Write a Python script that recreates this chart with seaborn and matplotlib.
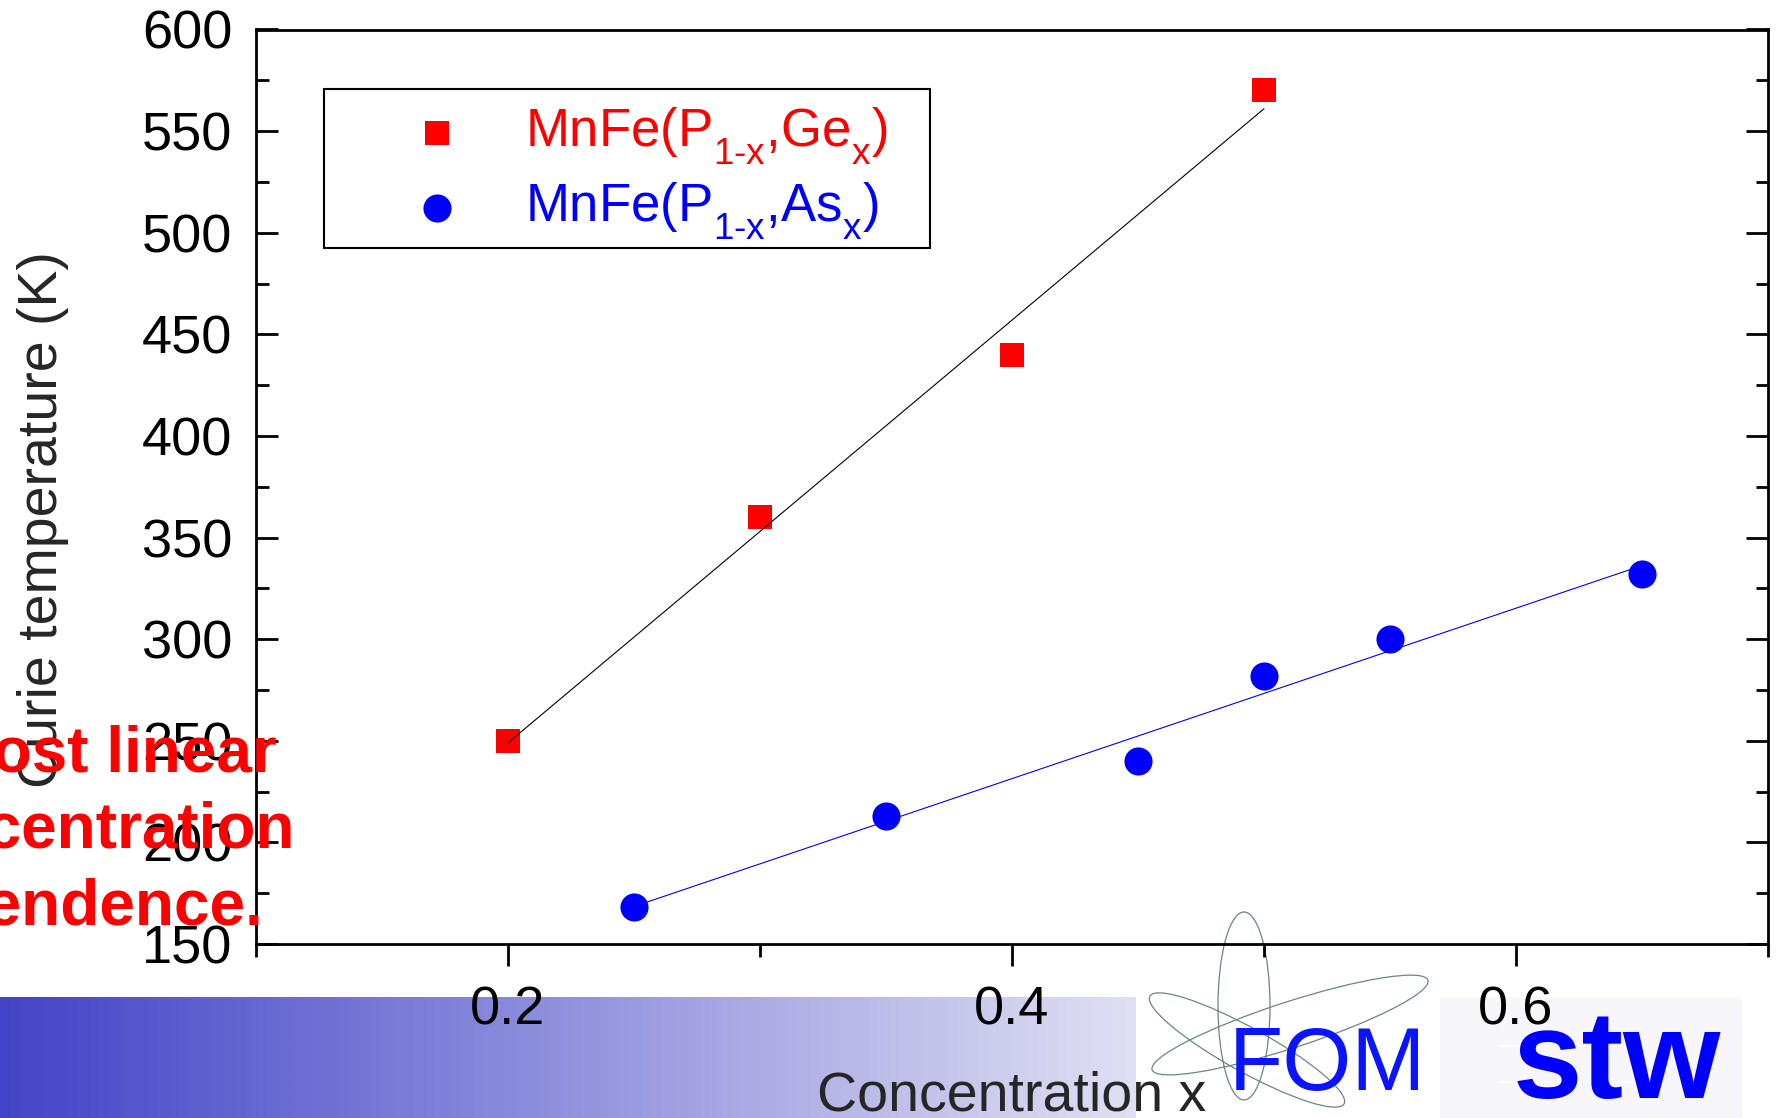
import numpy as np
import matplotlib
matplotlib.use("Agg")
import matplotlib.pyplot as plt
from matplotlib import font_manager, _mathtext
from matplotlib.colors import LinearSegmentedColormap
from matplotlib.patches import Ellipse, Rectangle
import seaborn as sns

# Curie temperature versus concentration x
ge_x = [0.20, 0.30, 0.40, 0.50]
ge_tc = [250, 360, 440, 570]

as_x = [0.25, 0.35, 0.45, 0.50, 0.55, 0.65]
as_tc = [168, 213, 240, 282, 300, 332]

ge_label = r"MnFe(P$_{\text{1-x}}$,Ge$_{\text{x}}$)"
as_label = r"MnFe(P$_{\text{1-x}}$,As$_{\text{x}}$)"
x_label = "Concentration x"
y_label = "Curie temperature (K)"
note_lines = ["Almost linear", "concentration", "dependence."]

x_major = [0.2, 0.4, 0.6]
x_minor = [0.1, 0.3, 0.5, 0.7]
y_major = [150, 200, 250, 300, 350, 400, 450, 500, 550, 600]
y_minor = [175, 225, 275, 325, 375, 425, 475, 525, 575]

sns.set_style("ticks")
plt.rcParams["font.family"] = ["Liberation Sans", "DejaVu Sans"]
plt.rcParams["mathtext.fontset"] = "custom"
plt.rcParams["mathtext.rm"] = "Liberation Sans"
plt.rcParams["mathtext.it"] = "Liberation Sans:italic"
plt.rcParams["text.color"] = "black"
plt.rcParams["xtick.color"] = "black"
plt.rcParams["ytick.color"] = "black"
plt.rcParams["axes.edgecolor"] = "black"
# deeper subscripts, as in the chemical formulas of the legend
_mathtext.FontConstantsBase.sub1 = 0.65

W, H = 1781, 1118
fig = plt.figure(figsize=(W / 100, H / 100), dpi=100, facecolor="white")

# ---- slide background: gradient band and logos (pixel coordinates) ----
bg = fig.add_axes([0, 0, 1, 1], zorder=-1)
bg.set_xlim(0, W)
bg.set_ylim(H, 0)
bg.axis("off")

band = LinearSegmentedColormap.from_list("band", ["#4444C8", "#DFDFF3"])
bg.imshow(np.linspace(0, 1, 256)[None, :], extent=[0, 1136, H, 997],
          aspect="auto", cmap=band, interpolation="bilinear")
bg.add_patch(Rectangle((1440, 997), 302, H - 997, color="#F6F6FB", lw=0))

orbit = dict(fill=False, edgecolor="#6B8585", lw=0.9)
bg.add_patch(Ellipse((1244, 1006), 52, 188, angle=0, **orbit))
bg.add_patch(Ellipse((1290, 1025), 290, 46, angle=-18, **orbit))
bg.add_patch(Ellipse((1247, 1050), 222, 44, angle=29, **orbit))

installed = {f.name for f in font_manager.fontManager.ttflist}
if "Liberation Sans Narrow" in installed:
    fom_family, fom_size = "Liberation Sans Narrow", 76
else:
    fom_family, fom_size = "Liberation Sans", 64
bg.text(1327, 1090, "FOM", ha="center", va="baseline", color="#0A14FF",
        fontsize=fom_size, family=fom_family)

bg.text(1617, 1098, "stw", ha="center", va="baseline", color="#0000FF",
        fontsize=90, fontweight="bold")
for yy in (1046, 1082):
    bg.plot([1500, 1640], [yy, yy], color="white", lw=1.2)

# ---- main chart ----
ax = fig.add_axes([256 / W, 1 - 944 / H, (1768 - 256) / W, (944 - 29.5) / H])
ax.set_facecolor("none")

sns.regplot(x=ge_x, y=ge_tc, ax=ax, ci=None, marker="s", color="#FF0000",
            label=ge_label,
            scatter_kws=dict(s=275, linewidths=0, alpha=1, zorder=2),
            line_kws=dict(color="black", lw=0.8, zorder=3))
sns.regplot(x=as_x, y=as_tc, ax=ax, ci=None, marker="o", color="#0000FF",
            label=as_label,
            scatter_kws=dict(s=410, linewidths=0, alpha=1, zorder=2),
            line_kws=dict(color="#0000FF", lw=0.8, zorder=3))

ax.set_xlim(0.1, 0.7)
ax.set_ylim(150, 600)
ax.set_xticks(x_major)
ax.set_xticks(x_minor, minor=True)
ax.set_yticks(y_major)
ax.set_yticks(y_minor, minor=True)
ax.set_xticklabels([f"{v:g}" for v in x_major])

for s in ax.spines.values():
    s.set_linewidth(2)
    s.set_color("black")

ax.tick_params(axis="y", which="both", direction="in", left=True, right=True,
               labelleft=True, labelright=False, width=2, pad=17, labelsize=39)
ax.tick_params(axis="y", which="major", length=15.8)
ax.tick_params(axis="y", which="minor", length=9)
ax.tick_params(axis="x", which="both", direction="out", bottom=True, top=False,
               width=2, pad=14, labelsize=39)
ax.tick_params(axis="x", which="major", length=15.8)
ax.tick_params(axis="x", which="minor", length=9)

ax.set_xlabel(x_label, fontsize=40)
ax.xaxis.set_label_coords(0.5, -0.138)
ax.set_ylabel(y_label, fontsize=40)
ax.yaxis.label.set_va("center")
ax.yaxis.set_label_coords((42.5 - 256) / 1512, (944 - 520) / 914.5)

# legend with a square frame
leg = ax.legend(loc="upper left", bbox_to_anchor=(384 / W, 1 - 106 / H),
                bbox_transform=fig.transFigure, borderaxespad=0, borderpad=0,
                frameon=False, fontsize=38, handlelength=2.0,
                handletextpad=0.67, labelspacing=0.25, scatterpoints=1,
                labelcolor=["#FF0000", "#0000FF"])
ax.add_patch(Rectangle(((324 - 256) / 1512, (944 - 248) / 914.5),
                       (930 - 324) / 1512, (248 - 89) / 914.5,
                       transform=ax.transAxes, fill=False, edgecolor="black",
                       lw=1.5, zorder=4))

# red note on the slide
for line, base in zip(note_lines, (771, 848, 925)):
    fig.text(-128 / W, 1 - base / H, line, ha="left", va="baseline",
             fontsize=46, fontweight="bold", color="#FF0000")

fig.savefig("out.png", dpi=100, facecolor="white")
